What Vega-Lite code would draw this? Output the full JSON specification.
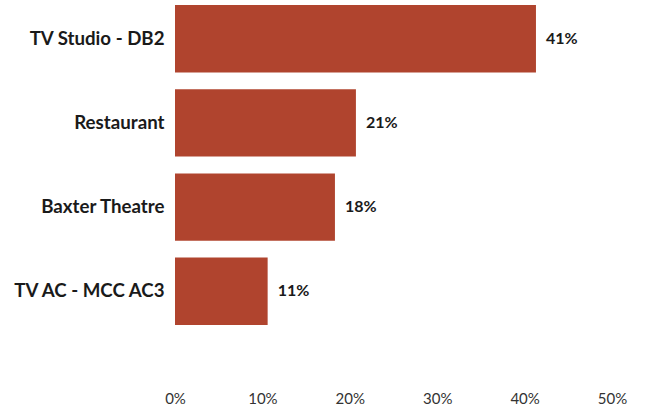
{
  "$schema": "https://vega.github.io/schema/vega-lite/v6.json",
  "width": 437,
  "height": 330,
  "autosize": "none",
  "padding": {"left": 175, "top": 0, "right": 33, "bottom": 82},
  "background": "white",
  "config": {"view": {"stroke": null}, "font": "Lato"},
  "data": {"values": [
    {"venue": "TV Studio - DB2", "share": 0.413},
    {"venue": "Restaurant", "share": 0.207},
    {"venue": "Baxter Theatre", "share": 0.183},
    {"venue": "TV AC - MCC AC3", "share": 0.106}
  ]},
  "encoding": {
    "y": {"field": "venue", "type": "nominal", "sort": null,
      "scale": {"paddingInner": 0.2, "paddingOuter": 0.06},
      "axis": {"title": null, "domain": false, "ticks": false, "labelPadding": 11,
        "labelFont": "Lato", "labelFontWeight": "bold", "labelFontSize": 18.7, "labelColor": "#1a1a1a"}},
    "x": {"field": "share", "type": "quantitative",
      "scale": {"domain": [0, 0.5], "nice": false},
      "axis": {"title": null, "format": ".0%", "values": [0, 0.1, 0.2, 0.3, 0.4, 0.5], "grid": false, "domain": false, "ticks": false,
        "labelPadding": 2, "offset": 59, "labelFont": "Lato", "labelFontSize": 15, "labelColor": "#333333", "labelFlush": false}}
  },
  "layer": [
    {"mark": {"type": "bar", "color": "#B0442E"}},
    {"mark": {"type": "text", "align": "left", "dx": 10, "font": "Lato", "fontWeight": "bold", "fontSize": 16, "color": "#1a1a1a"},
      "encoding": {"text": {"field": "share", "type": "quantitative", "format": ".0%"}}}
  ]
}
